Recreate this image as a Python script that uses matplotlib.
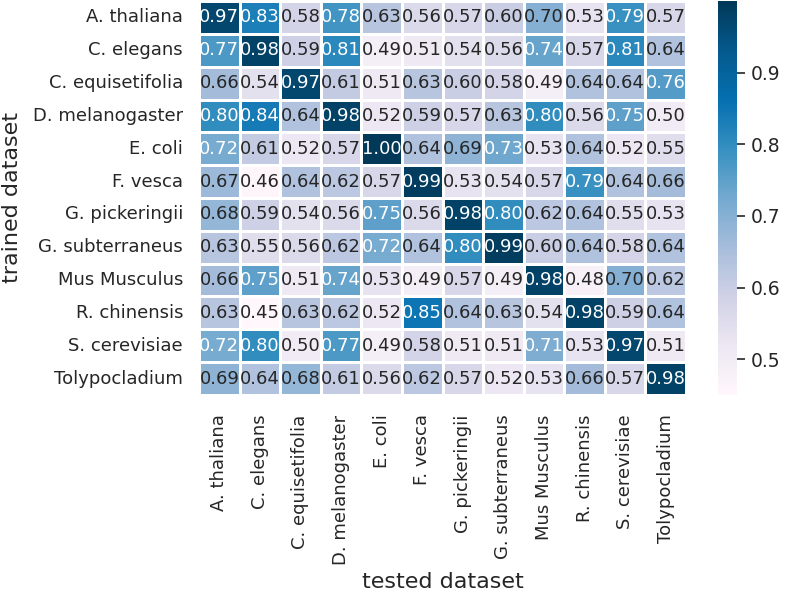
import numpy as np
import pandas as pd
import seaborn as sns
import matplotlib.pyplot as plt

datasets = ["A. thaliana", "C. elegans", "C. equisetifolia", "D. melanogaster",
            "E. coli", "F. vesca", "G. pickeringii", "G. subterraneus",
            "Mus Musculus", "R. chinensis", "S. cerevisiae", "Tolypocladium"]

# rows = trained dataset, columns = tested dataset
a_thaliana = [0.97, 0.83, 0.58, 0.78, 0.63, 0.56, 0.57, 0.60, 0.70, 0.53, 0.79, 0.57]
c_elegans = [0.77, 0.98, 0.59, 0.81, 0.49, 0.51, 0.54, 0.56, 0.74, 0.57, 0.81, 0.64]
c_equisetifolia = [0.66, 0.54, 0.97, 0.61, 0.51, 0.63, 0.60, 0.58, 0.49, 0.64, 0.64, 0.76]
d_melanogaster = [0.80, 0.84, 0.64, 0.98, 0.52, 0.59, 0.57, 0.63, 0.80, 0.56, 0.75, 0.50]
e_coli = [0.72, 0.61, 0.52, 0.57, 1.00, 0.64, 0.69, 0.73, 0.53, 0.64, 0.52, 0.55]
f_vesca = [0.67, 0.46, 0.64, 0.62, 0.57, 0.99, 0.53, 0.54, 0.57, 0.79, 0.64, 0.66]
g_pickeringii = [0.68, 0.59, 0.54, 0.56, 0.75, 0.56, 0.98, 0.80, 0.62, 0.64, 0.55, 0.53]
g_subterraneus = [0.63, 0.55, 0.56, 0.62, 0.72, 0.64, 0.80, 0.99, 0.60, 0.64, 0.58, 0.64]
mus_musculus = [0.66, 0.75, 0.51, 0.74, 0.53, 0.49, 0.57, 0.49, 0.98, 0.48, 0.70, 0.62]
r_chinensis = [0.63, 0.45, 0.63, 0.62, 0.52, 0.85, 0.64, 0.63, 0.54, 0.98, 0.59, 0.64]
s_cerevisiae = [0.72, 0.80, 0.50, 0.77, 0.49, 0.58, 0.51, 0.51, 0.71, 0.53, 0.97, 0.51]
tolypocladium = [0.69, 0.64, 0.68, 0.61, 0.56, 0.62, 0.57, 0.52, 0.53, 0.66, 0.57, 0.98]

rows = [a_thaliana, c_elegans, c_equisetifolia, d_melanogaster, e_coli, f_vesca,
        g_pickeringii, g_subterraneus, mus_musculus, r_chinensis, s_cerevisiae,
        tolypocladium]
df = pd.DataFrame(rows, index=datasets, columns=datasets)

sns.set_theme(style="white")
plt.rcParams['font.family'] = ['DejaVu Sans']

fig = plt.figure(figsize=(7.87, 5.92), dpi=100)
ax = fig.add_axes([0.2529, 0.3328, 0.6188, 0.6655])
cax = fig.add_axes([0.9123, 0.3328, 0.0241, 0.6655])

sns.heatmap(df, annot=True, fmt=".2f", cmap="PuBu", linewidths=1,
            linecolor="white", ax=ax, cbar_ax=cax,
            annot_kws={"size": 13})

ax.set_xlabel("tested dataset", fontsize=16)
ax.set_ylabel("trained dataset", fontsize=16)
ax.xaxis.set_label_coords(0.5, -0.449)
ax.yaxis.set_label_coords(-0.363, 0.5)
ax.tick_params(axis="x", labelsize=13, length=0, pad=14)
ax.tick_params(axis="y", labelsize=13, length=0, pad=11.5)
plt.setp(ax.get_xticklabels(), rotation=90)
plt.setp(ax.get_yticklabels(), rotation=0)

cax.set_yticks([0.5, 0.6, 0.7, 0.8, 0.9])
cax.tick_params(labelsize=13.5, length=6, width=1.2, right=True,
                color="#262626", pad=4)

fig.savefig("out.png", dpi=100)
